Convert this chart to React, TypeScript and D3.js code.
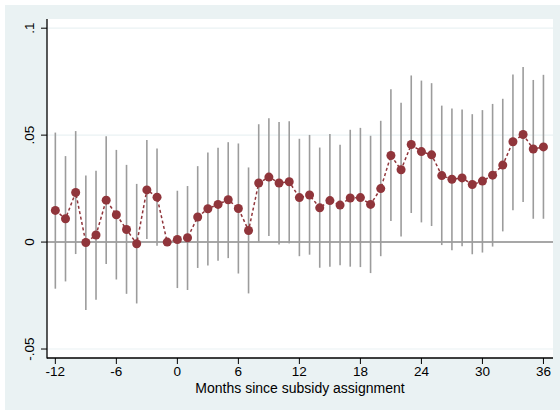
import React from "react";
import * as d3 from "d3";

// months relative to subsidy assignment
const months = [
  -12, -11, -10, -9, -8, -7, -6, -5, -4, -3, -2, -1, 0, 1, 2, 3, 4, 5, 6, 7, 8,
  9, 10, 11, 12, 13, 14, 15, 16, 17, 18, 19, 20, 21, 22, 23, 24, 25, 26, 27, 28,
  29, 30, 31, 32, 33, 34, 35, 36,
];

// point estimates
const coef = [
  0.0148, 0.0109, 0.0232, -0.0002, 0.0033, 0.0196, 0.0128, 0.0059, -0.0008,
  0.0244, 0.021, 0.0, 0.0012, 0.002, 0.0117, 0.0156, 0.0176, 0.0198, 0.0157,
  0.0054, 0.0276, 0.0304, 0.0276, 0.0282, 0.0208, 0.022, 0.016, 0.0194, 0.0173,
  0.0206, 0.0208, 0.0176, 0.025, 0.0405, 0.0338, 0.0456, 0.0423, 0.0408, 0.0311,
  0.0294, 0.03, 0.0269, 0.0285, 0.0313, 0.036, 0.0469, 0.0503, 0.0435, 0.0445,
];

// confidence interval bounds
const upper = [
  0.0512, 0.0402, 0.0519, 0.0311, 0.0333, 0.0495, 0.0431, 0.0361, 0.0272,
  0.0477, 0.0437, 0.0, 0.024, 0.0262, 0.0355, 0.0419, 0.0441, 0.0467, 0.0461,
  0.0349, 0.0551, 0.0579, 0.0561, 0.0565, 0.0483, 0.0501, 0.0442, 0.0505,
  0.0455, 0.0525, 0.0534, 0.0497, 0.0567, 0.0715, 0.0652, 0.0779, 0.0755,
  0.0743, 0.0638, 0.0624, 0.062, 0.0598, 0.0617, 0.0646, 0.067, 0.0783, 0.0818,
  0.0758, 0.0782,
];
const lower = [
  -0.0218, -0.0184, -0.0056, -0.0318, -0.027, -0.0103, -0.0175, -0.0242,
  -0.0287, 0.0014, -0.0017, 0.0, -0.0215, -0.0224, -0.0121, -0.0109, -0.0087,
  -0.0075, -0.0147, -0.024, 0.0, 0.0028, -0.0011, -0.0006, -0.0066, -0.0059,
  -0.012, -0.0115, -0.0108, -0.0115, -0.0117, -0.0145, -0.0066, 0.0098, 0.0026,
  0.0136, 0.0092, 0.0075, -0.0014, -0.0038, -0.002, -0.0057, -0.0049, -0.0021,
  0.005, 0.0149, 0.0187, 0.0109, 0.0109,
];

const xTicks = [-12, -6, 0, 6, 12, 18, 24, 30, 36];
const yTicks = [-0.05, 0, 0.05, 0.1];
const yTickLabels = ["-.05", "0", ".05", ".1"];
const xTitle = "Months since subsidy assignment";

const W = 560;
const H = 412;
const plot = { left: 47, right: 553, top: 19, bottom: 358 };

const maroon = "rgb(144,53,59)";
const bg = "#EAF2F3";
const font = "Arial, 'Liberation Sans', sans-serif";

export default function App() {
  const x = d3
    .scaleLinear()
    .domain([-12.82, 36.94])
    .range([plot.left, plot.right]);
  const y = d3
    .scaleLinear()
    .domain([-0.0542, 0.1043])
    .range([plot.bottom, plot.top]);

  const line = d3
    .line<number>()
    .x((d, i) => x(months[i]))
    .y((d) => y(d));

  return (
    <svg
      width={W}
      height={H}
      style={{ position: "absolute", left: 0, top: 0 }}
    >
      <rect x={0} y={0} width={W} height={H} fill="white" />
      <rect x={5} y={5} width={W - 5} height={405} fill={bg} />
      <rect
        x={plot.left}
        y={plot.top}
        width={plot.right - plot.left}
        height={plot.bottom - plot.top}
        fill="white"
      />

      {/* gridlines */}
      {yTicks
        .filter((t) => t !== 0)
        .map((t) => (
          <line
            key={`g${t}`}
            x1={plot.left}
            x2={plot.right}
            y1={y(t)}
            y2={y(t)}
            stroke={bg}
            strokeWidth={1.2}
          />
        ))}

      {/* zero reference line */}
      <line
        x1={plot.left}
        x2={plot.right}
        y1={y(0)}
        y2={y(0)}
        stroke="#8a8a8a"
        strokeWidth={1.5}
      />

      {/* confidence intervals */}
      {months.map((m, i) => (
        <line
          key={`ci${m}`}
          x1={x(m)}
          x2={x(m)}
          y1={y(upper[i])}
          y2={y(lower[i])}
          stroke="#9c9c9c"
          strokeWidth={1.6}
        />
      ))}

      {/* connecting dashed line */}
      <path
        d={line(coef) || ""}
        fill="none"
        stroke={maroon}
        strokeWidth={1.5}
        strokeDasharray="3,2.5"
      />

      {months.map((m, i) => (
        <circle key={`p${m}`} cx={x(m)} cy={y(coef[i])} r={4.5} fill={maroon} />
      ))}

      {/* axes */}
      <line
        x1={plot.left}
        x2={plot.left}
        y1={plot.top}
        y2={plot.bottom + 0.5}
        stroke="black"
        strokeWidth={1.3}
      />
      <line
        x1={plot.left}
        x2={plot.right}
        y1={plot.bottom}
        y2={plot.bottom}
        stroke="black"
        strokeWidth={1.3}
      />

      {yTicks.map((t, i) => (
        <g key={`yt${t}`}>
          <line
            x1={plot.left - 6}
            x2={plot.left}
            y1={y(t)}
            y2={y(t)}
            stroke="black"
            strokeWidth={1}
          />
          <text
            transform={`translate(${plot.left - 13},${y(t)}) rotate(-90)`}
            textAnchor="middle"
            fontFamily={font}
            fontSize={13.5}
            fill="black"
          >
            {yTickLabels[i]}
          </text>
        </g>
      ))}

      {xTicks.map((t) => (
        <g key={`xt${t}`}>
          <line
            x1={x(t)}
            x2={x(t)}
            y1={plot.bottom}
            y2={plot.bottom + 6}
            stroke="black"
            strokeWidth={1}
          />
          <text
            x={x(t)}
            y={plot.bottom + 18}
            textAnchor="middle"
            fontFamily={font}
            fontSize={13.5}
            fill="black"
          >
            {t}
          </text>
        </g>
      ))}

      <text
        x={(plot.left + plot.right) / 2}
        y={393}
        textAnchor="middle"
        fontFamily={font}
        fontSize={14}
        fill="black"
      >
        {xTitle}
      </text>
    </svg>
  );
}
